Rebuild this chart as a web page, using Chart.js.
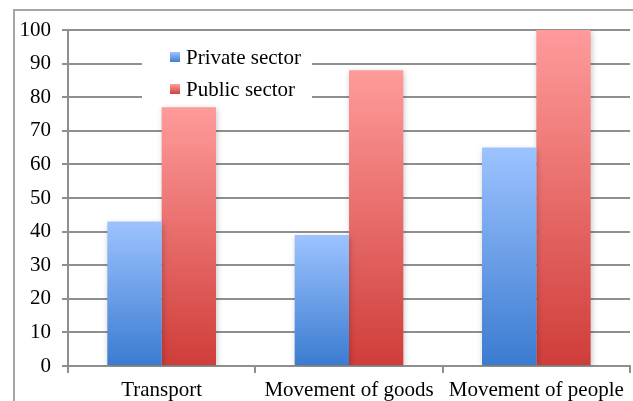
<!DOCTYPE html>
<html>
<head>
<meta charset="utf-8">
<script src="https://cdn.jsdelivr.net/npm/chart.js@4"></script>
<style>
  html, body { margin: 0; padding: 0; background: #fff; }
  #wrap { width: 633px; height: 401px; position: relative; }
</style>
</head>
<body>
<div id="wrap"><canvas id="sectorChart" width="633" height="401"></canvas></div>
<script>
// Data
const categories = ['Transport', 'Movement of goods', 'Movement of people'];
const privateSector = [43, 39, 65];
const publicSector = [77, 88, 100];
const yTicks = [0, 10, 20, 30, 40, 50, 60, 70, 80, 90, 100];

const serif = '"Liberation Serif", "Times New Roman", serif';

// vertical gradient per bar, light at the top, dark at the base
function barGradient(top, bottom) {
    return function(context) {
        const chart = context.chart;
        const yScale = chart.scales.y;
        if (!chart.chartArea || !yScale || context.raw == null) return bottom;
        const y0 = yScale.getPixelForValue(context.raw);
        const y1 = yScale.getPixelForValue(0);
        const g = chart.ctx.createLinearGradient(0, y0, 0, y1);
        g.addColorStop(0, top);
        g.addColorStop(1, bottom);
        return g;
    };
}

// outer frame of the figure
const framePlugin = {
    id: 'frame',
    beforeDraw(chart) {
        const ctx = chart.ctx;
        ctx.save();
        ctx.strokeStyle = '#a6a6a6';
        ctx.lineWidth = 2;
        ctx.strokeRect(14, 10, 700, 500);
        ctx.restore();
    }
};

// soft shadow behind bars
const shadowPlugin = {
    id: 'barShadow',
    beforeDatasetsDraw(chart) {
        const ctx = chart.ctx;
        ctx.save();
        ctx.shadowColor = 'rgba(0,0,0,0.22)';
        ctx.shadowBlur = 6;
        ctx.shadowOffsetX = 1;
        ctx.shadowOffsetY = 2;
    },
    afterDatasetsDraw(chart) {
        chart.ctx.restore();
    }
};

// legend inside the plot, on a white box
const insideLegend = {
    id: 'insideLegend',
    afterDatasetsDraw(chart) {
        const ctx = chart.ctx;
        const swatches = [['#9dc3ff', '#3f7fd2'], ['#ff9c9c', '#d0403c']];
        ctx.save();
        ctx.fillStyle = '#ffffff';
        ctx.fillRect(142, 40, 170, 64);
        ctx.font = '21px ' + serif;
        ctx.textBaseline = 'middle';
        chart.data.datasets.forEach((ds, i) => {
            const y = 57 + i * 32;
            const g = ctx.createLinearGradient(0, y - 5, 0, y + 5);
            g.addColorStop(0, swatches[i][0]);
            g.addColorStop(1, swatches[i][1]);
            ctx.fillStyle = g;
            ctx.fillRect(170, y - 5, 10, 10);
            ctx.fillStyle = '#000';
            ctx.fillText(ds.label, 186, y + 1);
        });
        ctx.restore();
    }
};

const ctx = document.getElementById('sectorChart').getContext('2d');
const sectorChart = new Chart(ctx, {
    type: 'bar',
    data: {
        labels: categories,
        datasets: [
            {
                label: 'Private sector',
                data: privateSector,
                backgroundColor: barGradient('#9dc3ff', '#3a7bd0'),
                categoryPercentage: 0.58,
                barPercentage: 1.0
            },
            {
                label: 'Public sector',
                data: publicSector,
                backgroundColor: barGradient('#ff9b9b', '#cf3d39'),
                categoryPercentage: 0.58,
                barPercentage: 1.0
            }
        ]
    },
    options: {
        responsive: false,
        animation: false,
        devicePixelRatio: 1,
        layout: {
            padding: { left: 0, right: 3, top: 30, bottom: 0 }
        },
        plugins: {
            legend: { display: false },
            tooltip: { enabled: false }
        },
        scales: {
            x: {
                offset: true,
                afterFit(scale) { scale.height = 35; },
                grid: {
                    offset: true,
                    drawOnChartArea: false,
                    drawTicks: true,
                    tickLength: 7,
                    color: '#8f8f8f',
                    lineWidth: 2
                },
                border: { display: true, color: '#8f8f8f', width: 2 },
                ticks: {
                    color: '#000',
                    padding: 5,
                    maxRotation: 0,
                    autoSkip: false,
                    font: { family: serif, size: 21 }
                }
            },
            y: {
                min: 0,
                max: 100,
                afterFit(scale) { scale.width = 68; },
                afterBuildTicks(scale) {
                    scale.ticks = yTicks.map(v => ({ value: v }));
                },
                grid: {
                    color: '#8f8f8f',
                    lineWidth: 2,
                    tickLength: 6
                },
                border: { display: true, color: '#8f8f8f', width: 2 },
                ticks: {
                    color: '#000',
                    padding: 11,
                    font: { family: serif, size: 21 }
                }
            }
        }
    },
    plugins: [framePlugin, shadowPlugin, insideLegend]
});
</script>
</body>
</html>
